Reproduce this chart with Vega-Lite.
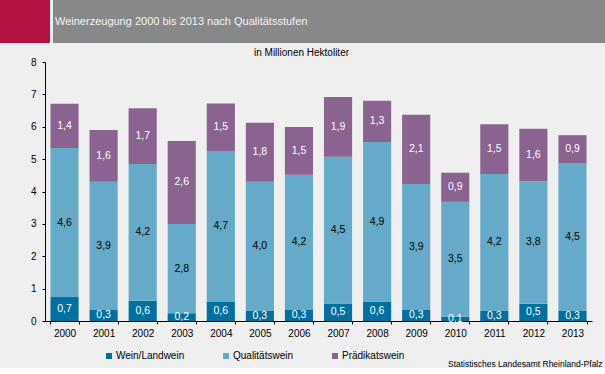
{
  "$schema": "https://vega.github.io/schema/vega-lite/v6.json",
  "background": "#eeefee",
  "padding": 0,
  "config": {"view": {"stroke": null}, "font": "Liberation Sans"},
  "spacing": 5,
  "vconcat": [
    {
      "spacing": 3,
      "hconcat": [
        {
          "width": 50, "height": 43,
          "view": {"fill": "#b41240", "stroke": null},
          "data": {"values": [{"t": ""}]},
          "mark": "text",
          "encoding": {"text": {"field": "t"}}
        },
        {
          "width": 552, "height": 43,
          "view": {"fill": "#87888a", "stroke": null},
          "data": {"values": [{"t": "Weinerzeugung 2000 bis 2013 nach Qualitätsstufen"}]},
          "mark": {"type": "text", "align": "left", "baseline": "middle", "dx": -274, "fontSize": 11, "color": "#f4f4f4"},
          "encoding": {"text": {"field": "t"}}
        }
      ]
    },
    {
      "spacing": 0,
      "hconcat": [
        {
          "width": 1, "height": 1,
          "data": {"values": [{"t": ""}]},
          "mark": "text",
          "encoding": {"text": {"field": "t"}}
        },
        {
          "width": 547,
          "height": 259,
          "title": {"text": "in Millionen Hektoliter", "fontSize": 10, "fontWeight": "normal", "color": "#000", "frame": "group", "anchor": "middle", "dx": -17, "baseline": "alphabetic", "offset": -9},
          "data": {"values": [
            {"year": "2000", "type": "Wein/Landwein", "value": 0.74, "label": "0,7"},
            {"year": "2000", "type": "Qualitätswein", "value": 4.6, "label": "4,6"},
            {"year": "2000", "type": "Prädikatswein", "value": 1.37, "label": "1,4"},
            {"year": "2001", "type": "Wein/Landwein", "value": 0.34, "label": "0,3"},
            {"year": "2001", "type": "Qualitätswein", "value": 3.96, "label": "3,9"},
            {"year": "2001", "type": "Prädikatswein", "value": 1.6, "label": "1,6"},
            {"year": "2002", "type": "Wein/Landwein", "value": 0.63, "label": "0,6"},
            {"year": "2002", "type": "Qualitätswein", "value": 4.22, "label": "4,2"},
            {"year": "2002", "type": "Prädikatswein", "value": 1.72, "label": "1,7"},
            {"year": "2003", "type": "Wein/Landwein", "value": 0.24, "label": "0,2"},
            {"year": "2003", "type": "Qualitätswein", "value": 2.76, "label": "2,8"},
            {"year": "2003", "type": "Prädikatswein", "value": 2.56, "label": "2,6"},
            {"year": "2004", "type": "Wein/Landwein", "value": 0.59, "label": "0,6"},
            {"year": "2004", "type": "Qualitätswein", "value": 4.66, "label": "4,7"},
            {"year": "2004", "type": "Prädikatswein", "value": 1.47, "label": "1,5"},
            {"year": "2005", "type": "Wein/Landwein", "value": 0.32, "label": "0,3"},
            {"year": "2005", "type": "Qualitätswein", "value": 3.98, "label": "4,0"},
            {"year": "2005", "type": "Prädikatswein", "value": 1.82, "label": "1,8"},
            {"year": "2006", "type": "Wein/Landwein", "value": 0.34, "label": "0,3"},
            {"year": "2006", "type": "Qualitätswein", "value": 4.18, "label": "4,2"},
            {"year": "2006", "type": "Prädikatswein", "value": 1.47, "label": "1,5"},
            {"year": "2007", "type": "Wein/Landwein", "value": 0.54, "label": "0,5"},
            {"year": "2007", "type": "Qualitätswein", "value": 4.53, "label": "4,5"},
            {"year": "2007", "type": "Prädikatswein", "value": 1.85, "label": "1,9"},
            {"year": "2008", "type": "Wein/Landwein", "value": 0.6, "label": "0,6"},
            {"year": "2008", "type": "Qualitätswein", "value": 4.93, "label": "4,9"},
            {"year": "2008", "type": "Prädikatswein", "value": 1.27, "label": "1,3"},
            {"year": "2009", "type": "Wein/Landwein", "value": 0.34, "label": "0,3"},
            {"year": "2009", "type": "Qualitätswein", "value": 3.89, "label": "3,9"},
            {"year": "2009", "type": "Prädikatswein", "value": 2.14, "label": "2,1"},
            {"year": "2010", "type": "Wein/Landwein", "value": 0.13, "label": "0,1"},
            {"year": "2010", "type": "Qualitätswein", "value": 3.55, "label": "3,5"},
            {"year": "2010", "type": "Prädikatswein", "value": 0.9, "label": "0,9"},
            {"year": "2011", "type": "Wein/Landwein", "value": 0.32, "label": "0,3"},
            {"year": "2011", "type": "Qualitätswein", "value": 4.22, "label": "4,2"},
            {"year": "2011", "type": "Prädikatswein", "value": 1.54, "label": "1,5"},
            {"year": "2012", "type": "Wein/Landwein", "value": 0.53, "label": "0,5"},
            {"year": "2012", "type": "Qualitätswein", "value": 3.79, "label": "3,8"},
            {"year": "2012", "type": "Prädikatswein", "value": 1.62, "label": "1,6"},
            {"year": "2013", "type": "Wein/Landwein", "value": 0.32, "label": "0,3"},
            {"year": "2013", "type": "Qualitätswein", "value": 4.54, "label": "4,5"},
            {"year": "2013", "type": "Prädikatswein", "value": 0.88, "label": "0,9"}
          ]},
          "encoding": {
            "x": {
              "field": "year", "type": "ordinal",
              "scale": {"paddingInner": 0.28, "paddingOuter": 0.14},
              "axis": {
                "title": "Statistisches Landesamt Rheinland-Pfalz",
                "titleFontSize": 8.5, "titleFontWeight": "normal", "titleColor": "#000",
                "titleAlign": "right", "titleX": 557, "titleY": 45.5, "titleBaseline": "alphabetic",
                "labelAngle": 0, "labelFontSize": 10, "labelColor": "#000", "labelPadding": 4,
                "tickBand": "extent", "tickSize": 3, "domainColor": "#000", "tickColor": "#000"
              }
            }
          },
          "layer": [
            {
              "mark": {"type": "bar"},
              "encoding": {
                "y": {
                  "field": "value", "type": "quantitative", "stack": "zero",
                  "scale": {"domain": [0, 8], "nice": false},
                  "axis": {
                    "values": [0, 1, 2, 3, 4, 5, 6, 7, 8], "title": null, "grid": false,
                    "domainColor": "#000", "tickColor": "#000", "tickSize": 3,
                    "labelFontSize": 10, "labelColor": "#000", "labelPadding": 6,
                    "minExtent": 44, "maxExtent": 44
                  }
                },
                "color": {
                  "field": "type", "type": "nominal",
                  "scale": {"domain": ["Wein/Landwein", "Qualitätswein", "Prädikatswein"], "range": ["#0070a0", "#65aac8", "#8b6390"]},
                  "legend": {
                    "orient": "none", "legendX": 104, "legendY": 351, "direction": "horizontal",
                    "title": null, "symbolType": "square", "symbolSize": 36, "symbolStrokeWidth": 0,
                    "labelFontSize": 10, "labelColor": "#000", "labelOffset": 2, "columnPadding": 36
                  }
                },
                "order": {"field": "type", "sort": "descending"}
              }
            },
            {
              "transform": [
                {"stack": "value", "groupby": ["year"], "sort": [{"field": "type", "order": "descending"}], "as": ["v0", "v1"]},
                {"fold": ["v0", "v1"], "as": ["edge", "pos"]},
                {"aggregate": [{"op": "mean", "field": "pos", "as": "mid"}], "groupby": ["year", "type", "label"]}
              ],
              "mark": {"type": "text", "fontSize": 10.5, "baseline": "middle"},
              "encoding": {
                "y": {
                  "field": "mid", "type": "quantitative",
                  "scale": {"domain": [0, 8], "nice": false},
                  "axis": {
                    "values": [0, 1, 2, 3, 4, 5, 6, 7, 8], "title": null, "grid": false,
                    "domainColor": "#000", "tickColor": "#000", "tickSize": 3,
                    "labelFontSize": 10, "labelColor": "#000", "labelPadding": 6,
                    "minExtent": 44, "maxExtent": 44
                  }
                },
                "text": {"field": "label"},
                "color": {"condition": {"test": "datum.type === 'Qualitätswein'", "value": "#000"}, "value": "#fff"}
              }
            }
          ]
        }
      ]
    }
  ]
}
